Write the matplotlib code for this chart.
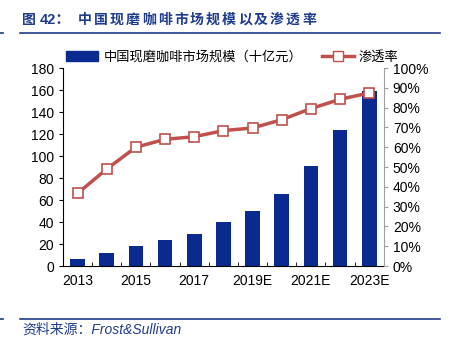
import numpy as np
import matplotlib; matplotlib.use("Agg")
import matplotlib.pyplot as plt
from matplotlib.lines import Line2D

plt.rcParams['font.family'] = ['Liberation Sans', 'Noto Sans CJK SC', 'DejaVu Sans']

years = ["2013", "2014", "2015", "2016", "2017", "2018", "2019E", "2020E", "2021E", "2022E", "2023E"]
market = [6.2, 11.7, 18.4, 24.0, 29.5, 39.6, 49.8, 65.4, 91.0, 124.0, 159.0]     # 十亿元
penetration = [36.7, 49.0, 60.0, 64.0, 65.3, 68.4, 69.7, 73.9, 79.5, 84.2, 87.4]  # %
title_chars = "中国现磨咖啡市场规模以及渗透率"

BLUE = "#0B2A8F"; RED = "#C0504D"; TITLE = "#1F3C8C"
W, H = 451, 344

fig = plt.figure(figsize=(W / 100, H / 100), dpi=100)
ax = fig.add_axes([0.1397, 0.2267, 0.7113, 0.5756])
x = np.arange(len(years))
ax.bar(x, market, width=0.5, color=BLUE, zorder=2)
ax.set_xlim(-0.5, len(years) - 0.5)
ax.set_ylim(0, 180)
ax.set_yticks(range(0, 181, 20))
ax.set_xticks(x[::2])
ax.set_xticklabels(years[::2])
ax.set_xticks(np.arange(-0.5, len(years), 1), minor=True)
ax.tick_params(axis="x", which="major", length=0, labelsize=10, pad=6)
ax.tick_params(axis="x", which="minor", direction="in", length=3)
ax.tick_params(axis="y", direction="out", length=3, labelsize=10)
for s in ("top", "right"):
    ax.spines[s].set_visible(False)

ax2 = ax.twinx()
ax2.plot(x, penetration, color=RED, lw=2.5, marker="s", ms=7, mfc="white", mec=RED, mew=1.2, zorder=3)
ax2.set_ylim(0, 100)
ax2.set_yticks(range(0, 101, 10))
ax2.set_yticklabels([f"{v}%" for v in range(0, 101, 10)])
ax2.tick_params(axis="y", direction="out", length=3, labelsize=10, color="#A0A0A0")
for s in ("top", "left", "bottom"):
    ax2.spines[s].set_visible(False)
ax2.spines["right"].set_color("#A0A0A0")

handles = [plt.Rectangle((0, 0), 1, 1, color=BLUE),
           Line2D([], [], color=RED, lw=2.5, marker="s", ms=7, mfc="white", mec=RED)]
fig.legend(handles, ["中国现磨咖啡市场规模（十亿元）", "渗透率"], ncol=2, frameon=False,
           loc="center", bbox_to_anchor=(0.5155, 0.834), handlelength=2.4,
           columnspacing=1.5, handletextpad=0.4, prop={"family": ["Noto Sans CJK SC"], "size": 9.5})

# title, characters spaced out like the original
fig.text(22 / W, 1 - 20 / H, "图", color=TITLE, fontsize=10, fontweight="bold", va="center",
         family=["Noto Sans CJK SC"])
fig.text(40 / W, 1 - 20 / H, "42：", color=TITLE, fontsize=10.5, fontweight="bold", va="center",
         family=["Liberation Sans", "Noto Sans CJK SC"])
for i, ch in enumerate(title_chars):
    fig.text((78 + 16 * i) / W, 1 - 20 / H, ch, color=TITLE, fontsize=10, fontweight="bold",
             va="center", family=["Noto Sans CJK SC"])
fig.add_artist(Line2D([20 / W, 440 / W], [1 - 33.3 / H] * 2, color=TITLE, lw=1.2))
fig.add_artist(Line2D([0.0, 3 / W], [1 - 33.3 / H] * 2, color=TITLE, lw=1.2))
fig.add_artist(Line2D([20 / W, 440 / W], [1 - 319.3 / H] * 2, color=TITLE, lw=1.2))
fig.add_artist(Line2D([0.0, 3 / W], [1 - 319.3 / H] * 2, color=TITLE, lw=1.2))
fig.text(22 / W, 1 - 330 / H, "资料来源：Frost&Sullivan", color=TITLE, fontsize=10, style="italic",
         va="center", family=["Liberation Sans", "Noto Sans CJK SC"])

fig.savefig("out.png", dpi=100)
